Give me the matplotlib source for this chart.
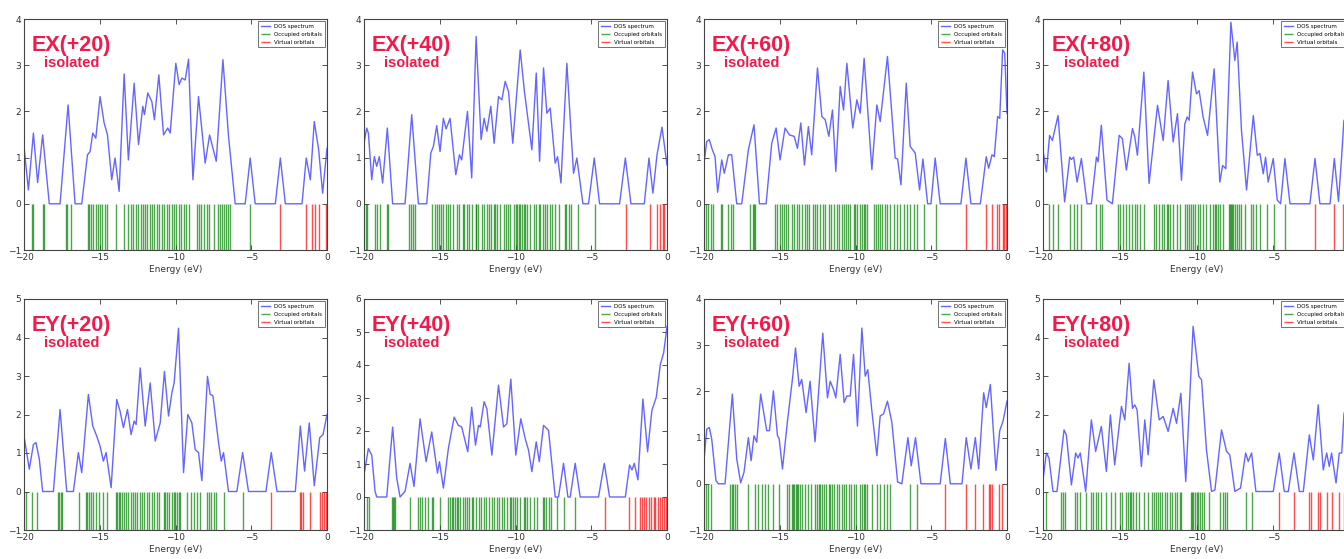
import matplotlib
matplotlib.use("Agg")
import matplotlib.pyplot as plt

plt.rcParams['font.family'] = ['DejaVu Sans']

titles = ['EX(+20)', 'EX(+40)', 'EX(+60)', 'EX(+80)',
          'EY(+20)', 'EY(+40)', 'EY(+60)', 'EY(+80)']
y_tops = [4, 4, 4, 4, 5, 6, 4, 5]
legend_labels = ['DOS spectrum', 'Occupied orbitals', 'Virtual orbitals']
x_ticks = [-20, -15, -10, -5, 0]

# ---------------- EX(+20)
ex20_e = [-20, -19.71, -19.38, -19.10, -18.77, -18.33, -17.62, -17.09, -16.63, -16.19, -15.81, -15.64, -15.46, -15.26,
          -14.98, -14.71, -14.49, -14.21, -13.99, -13.72, -13.39, -13.11, -12.73, -12.44, -12.16, -12.05, -11.83, -11.56,
          -11.39, -11.10, -10.79, -10.51, -10.35, -9.98, -9.76, -9.58, -9.36, -9.14, -8.85, -8.48, -8.04, -7.75, -7.31,
          -6.87, -6.50, -6.06, -5.40, -5.07, -4.74, -3.41, -3.08, -2.75, -1.65, -1.37, -1.10, -0.84, -0.55, -0.29, 0]
ex20_dos = [1.24, 0.30, 1.53, 0.46, 1.49, 0, 0, 2.14, 0, 0, 1.06, 1.13, 1.53, 1.42,
            2.32, 1.75, 1.49, 0.52, 0.99, 0.27, 2.81, 0.95, 2.61, 1.28, 2.11, 1.93, 2.40, 2.21,
            1.82, 2.79, 1.49, 1.64, 1.53, 3.04, 2.58, 2.72, 2.68, 3.13, 0.52, 2.32, 0.88, 1.49, 0.92,
            3.12, 1.46, 0, 0, 0.99, 0, 0, 0.99, 0, 0, 0.99, 0.52, 1.78, 1.17, 0.23, 1.2]
ex20_occ = [-19.49, -19.38, -18.77, -18.66, -17.25, -17.16, -16.92, -15.79, -15.68, -15.57, -15.42, -15.26, -15.13,
            -14.98, -14.85, -14.67, -14.52, -13.92, -13.37, -13.11, -12.95, -12.78, -12.64, -12.47, -12.27, -12.14,
            -12.01, -11.85, -11.70, -11.54, -11.39, -11.23, -11.08, -10.90, -10.77, -10.57, -10.40, -10.24, -10.13,
            -9.96, -9.80, -9.65, -9.47, -9.32, -9.14, -8.59, -8.48, -8.33, -8.15, -7.93, -7.78, -7.49, -7.22, -7.05,
            -6.94, -6.81, -6.67, -6.52, -6.39, -5.07]
ex20_virt = [-3.08, -1.37, -0.99, -0.81, -0.55, -0.04]

# ---------------- EX(+40)
ex40_e = [-20, -19.82, -19.71, -19.49, -19.32, -19.16, -18.99, -18.77, -18.46, -18.11, -17.29, -16.85, -16.41, -15.86,
          -15.59, -15.42, -15.20, -14.98, -14.76, -14.58, -14.32, -13.94, -13.70, -13.55, -13.17, -12.89, -12.60,
          -12.27, -12.07, -11.89, -11.63, -11.41, -11.12, -10.90, -10.68, -10.46, -10.18, -9.69, -9.41, -8.92, -8.63,
          -8.41, -8.15, -7.93, -7.71, -7.38, -7.22, -7.00, -6.61, -6.17, -5.95, -5.55, -5.18, -4.80, -4.45, -3.13,
          -2.75, -2.38, -1.50, -1.19, -0.93, -0.66, -0.33, 0]
ex40_dos = [1.31, 1.64, 1.53, 0.52, 1.02, 0.81, 1.02, 0.45, 1.64, 0, 0, 1.93, 0, 0,
            1.10, 1.24, 1.69, 1.13, 1.85, 1.62, 1.85, 0.63, 1.06, 0.95, 2.00, 0.56, 3.62,
            1.39, 1.85, 1.57, 2.11, 1.31, 2.32, 2.25, 2.65, 2.43, 1.31, 3.33, 2.43, 1.17, 2.83,
            0.92, 2.94, 1.96, 2.07, 0.88, 1.02, 0.45, 3.04, 0.66, 0.99, 0, 0, 0.99, 0, 0,
            0.99, 0, 0, 0.99, 0.23, 1.06, 1.66, 0.84]
ex40_occ = [-19.87, -19.78, -19.30, -19.12, -18.94, -18.50, -18.39, -17.00, -16.89, -16.74, -16.63, -15.53, -15.31,
            -15.20, -15.04, -14.91, -14.76, -14.58, -14.47, -14.32, -14.10, -13.88, -13.70, -13.48, -13.37, -13.22,
            -13.06, -12.89, -12.62, -12.58, -12.49, -12.22, -12.05, -11.89, -11.78, -11.63, -11.45, -11.34, -11.19,
            -11.01, -10.79, -10.64, -10.51, -10.35, -10.13, -9.96, -9.87, -9.78, -9.69, -9.58, -9.47, -9.36, -9.25,
            -9.03, -8.81, -8.66, -8.48, -8.37, -8.19, -8.04, -7.93, -7.75, -7.60, -7.38, -7.16, -6.72, -6.65, -6.50,
            -6.34, -5.90, -4.74]
ex40_virt = [-2.73, -1.15, -0.66, -0.48, -0.26, -0.18]

# ---------------- EX(+60)
ex60_e = [-20, -19.82, -19.65, -19.45, -19.27, -19.10, -18.83, -18.66, -18.39, -18.17, -17.84, -17.51, -17.07, -16.70,
          -16.34, -15.90, -15.53, -15.24, -14.98, -14.65, -14.36, -14.05, -13.83, -13.61, -13.37, -13.11, -12.89,
          -12.51, -12.22, -12.00, -11.76, -11.52, -11.30, -11.01, -10.79, -10.57, -10.18, -9.91, -9.69, -9.43, -8.92,
          -8.59, -8.37, -7.89, -7.38, -7.22, -7.00, -6.65, -6.39, -6.06, -5.77, -5.55, -5.24, -5.02, -4.74, -4.41,
          -3.04, -2.71, -2.38, -1.76, -1.37, -1.21, -0.99, -0.84, -0.62, -0.48, -0.29, -0.15, 0]
ex60_dos = [0.88, 1.35, 1.39, 1.17, 1.02, 0.25, 0.95, 0.66, 1.06, 1.06, 0, 0, 1.17, 1.71,
            0, 0, 1.31, 1.64, 0.95, 1.64, 1.49, 1.46, 1.20, 1.75, 0.84, 1.67, 1.06,
            2.94, 1.89, 1.82, 1.46, 2.03, 0.70, 2.54, 2.03, 3.04, 1.64, 2.25, 1.96, 3.15, 0.74,
            2.14, 1.78, 3.19, 0.99, 0.97, 0.41, 2.61, 1.24, 1.10, 0.30, 0.97, 0, 0, 0.99, 0,
            0, 0.99, 0, 0, 1.02, 0.77, 1.06, 1.02, 1.89, 1.85, 3.33, 3.26, 1.96]
ex60_occ = [-19.87, -19.71, -19.56, -19.38, -18.90, -18.79, -18.39, -18.24, -18.06, -16.96, -16.78, -16.70, -16.61,
            -15.31, -15.15, -14.98, -14.87, -14.71, -14.58, -14.43, -14.21, -14.05, -13.88, -13.70, -13.55, -13.33,
            -13.22, -13.04, -12.82, -12.67, -12.51, -12.33, -12.16, -12.00, -11.78, -11.61, -11.41, -11.23, -11.06,
            -10.90, -10.79, -10.64, -10.51, -10.35, -10.13, -10.02, -9.87, -9.69, -9.58, -9.47, -9.36, -9.21, -8.81,
            -8.63, -8.50, -8.37, -8.22, -8.04, -7.89, -7.71, -7.49, -7.27, -7.05, -6.78, -6.61, -6.39, -6.17, -5.95,
            -5.51, -4.67]
ex60_virt = [-2.69, -1.37, -0.99, -0.66, -0.53, -0.26, -0.18, -0.09]

# ---------------- EX(+80)
ex80_e = [-20, -19.78, -19.57, -19.39, -19.02, -18.59, -18.26, -18.15, -18.00, -17.78, -17.50, -17.13, -16.85, -16.52,
          -16.41, -16.20, -15.83, -15.48, -15.04, -14.83, -14.57, -14.17, -14.02, -13.85, -13.43, -13.09, -12.54,
          -12.17, -11.85, -11.52, -11.24, -10.98, -10.76, -10.61, -10.48, -10.26, -10.00, -9.83, -9.57, -9.28, -8.85,
          -8.48, -8.30, -8.09, -7.76, -7.50, -7.35, -7.07, -6.74, -6.30, -6.04, -5.87, -5.65, -5.50, -5.33, -5.00,
          -4.74, -4.52, -4.24, -3.91, -2.61, -2.28, -1.96, -1.30, -1.02, -0.75, -0.55, -0.40, 0]
ex80_dos = [1.16, 0.69, 1.48, 1.37, 1.91, 0.04, 1.01, 0.96, 1.01, 0.47, 0.98, 0, 0, 1.01,
            0.91, 1.70, 0.08, 0, 1.48, 1.41, 0.73, 1.63, 1.45, 1.05, 2.85, 0.44, 2.13,
            1.37, 2.67, 1.34, 1.95, 0.51, 1.73, 1.88, 1.81, 2.85, 2.38, 2.45, 1.88, 1.48, 2.92,
            0.47, 0.83, 0.76, 3.93, 3.10, 3.50, 1.59, 0.30, 1.91, 1.05, 1.09, 0.65, 1.01, 0.47, 0.98,
            0.08, 0, 0.98, 0, 0, 0.98, 0, 0, 0.98, 0.05, 1.0, 1.8, 2.0]
ex80_occ = [-19.61, -19.35, -19.02, -18.26, -18.00, -17.78, -17.50, -16.52, -16.30, -16.13, -15.11, -14.96, -14.78,
            -14.61, -14.39, -14.17, -14.02, -13.85, -13.70, -13.43, -12.78, -12.61, -12.43, -12.28, -12.11, -11.89,
            -11.85, -11.74, -11.52, -11.24, -11.09, -10.76, -10.65, -10.48, -10.33, -10.22, -10.07, -9.89, -9.78,
            -9.57, -9.35, -9.13, -8.91, -8.80, -8.70, -8.59, -8.48, -8.26, -7.87, -7.83, -7.76, -7.67, -7.61, -7.50,
            -7.39, -7.22, -7.07, -6.85, -6.48, -6.30, -6.13, -5.87, -5.43, -4.96, -4.24]
ex80_virt = [-2.28, -1.02, -0.45, -0.2]

# ---------------- EY(+20)
ey20_e = [-20, -19.65, -19.38, -19.21, -18.99, -18.77, -18.06, -17.62, -17.18, -16.74, -16.41, -16.19, -15.75, -15.46,
          -15.20, -14.98, -14.76, -14.58, -14.25, -13.88, -13.66, -13.44, -13.17, -12.93, -12.73, -12.60, -12.33,
          -12.00, -11.67, -11.34, -11.01, -10.73, -10.46, -10.24, -10.09, -9.80, -9.47, -9.19, -8.92, -8.70, -8.48,
          -8.26, -7.89, -7.71, -7.53, -7.16, -6.98, -6.83, -6.50, -5.95, -5.57, -5.18, -4.03, -3.68, -3.30, -2.09,
          -1.76, -1.48, -1.17, -0.84, -0.48, -0.26, 0]
ey20_dos = [1.44, 0.58, 1.22, 1.27, 0.84, 0, 0, 2.13, 0, 0, 1.01, 0.49, 2.52, 1.70,
            1.44, 1.18, 0.79, 1.01, 0.10, 2.39, 2.09, 1.66, 2.13, 1.48, 1.83, 1.74, 3.21,
            1.70, 2.82, 1.31, 1.78, 3.12, 1.96, 2.56, 2.82, 4.24, 0.49, 2.00, 1.78, 1.09, 1.01,
            0.28, 2.99, 2.52, 2.49, 1.27, 0.79, 1.01, 0, 0, 1.01, 0, 0, 1.01, 0, 0,
            1.70, 0.53, 1.78, 0.15, 1.40, 1.48, 2.00]
ey20_occ = [-19.87, -19.49, -19.16, -17.73, -17.67, -17.56, -17.49, -16.37, -15.90, -15.81, -15.68, -15.57, -15.42,
            -15.24, -15.02, -14.80, -14.54, -13.92, -13.83, -13.74, -13.66, -13.55, -13.39, -13.26, -13.11, -12.95,
            -12.82, -12.67, -12.51, -12.33, -12.22, -12.07, -11.89, -11.72, -11.56, -11.41, -11.23, -11.06, -10.75,
            -10.68, -10.57, -10.40, -10.24, -10.13, -10.02, -9.91, -9.80, -9.69, -9.21, -8.99, -8.81, -8.59, -8.37,
            -7.93, -7.82, -7.67, -7.49, -7.31, -6.83, -5.55]
ey20_virt = [-3.68, -1.81, -1.70, -1.59, -1.15, -0.48, -0.33, -0.18, -0.04]

# ---------------- EY(+40)
ey40_e = [-20, -19.71, -19.49, -19.27, -19.16, -18.50, -18.11, -17.84, -17.62, -17.29, -16.96, -16.70, -16.30, -15.90,
          -15.53, -15.15, -15.02, -14.76, -14.43, -14.05, -13.77, -13.55, -13.15, -12.89, -12.64, -12.44, -12.33,
          -12.07, -11.89, -11.56, -11.12, -10.79, -10.57, -10.31, -9.98, -9.65, -9.36, -9.14, -8.92, -8.63, -8.43,
          -8.15, -7.82, -7.38, -7.16, -6.83, -6.54, -6.39, -6.06, -5.73, -4.52, -4.14, -3.79, -2.75, -2.47, -2.31,
          -2.16, -1.92, -1.59, -1.28, -1.00, -0.71, -0.44, -0.22, 0]
ey40_dos = [0.67, 1.47, 1.27, 0.17, 0, 0, 2.12, 0.57, 0, 0.17, 1.02, 0.32, 2.37, 1.07,
            1.97, 0.72, 1.07, 0.27, 1.47, 2.42, 2.17, 2.12, 1.37, 2.72, 1.57, 2.17, 2.12,
            2.89, 2.67, 1.27, 3.39, 2.12, 2.22, 3.57, 1.27, 2.37, 1.77, 1.42, 0.77, 1.67, 1.07,
            2.17, 2.02, 0, 0, 1.02, 0, 0, 1.02, 0, 0, 1.02, 0, 0, 0.97, 0.82,
            1.02, 0.52, 2.97, 1.37, 2.62, 3.02, 4.02, 4.37, 5.17]
ey40_occ = [-19.82, -19.65, -18.17, -18.11, -18.02, -17.95, -16.96, -16.41, -16.30, -16.19, -15.97, -15.75, -15.53,
            -15.46, -14.98, -14.43, -14.32, -14.21, -14.10, -13.99, -13.88, -13.77, -13.66, -13.48, -13.33, -13.17,
            -13.04, -12.86, -12.78, -12.60, -12.44, -12.29, -12.11, -11.94, -11.78, -11.56, -11.41, -11.23, -11.06,
            -10.90, -10.75, -10.57, -10.35, -10.31, -10.18, -10.02, -9.87, -9.69, -9.47, -9.36, -9.21, -9.03, -8.81,
            -8.59, -8.19, -8.11, -7.97, -7.82, -7.64, -7.27, -6.83, -6.06]
ey40_virt = [-4.12, -2.53, -2.09, -1.76, -1.65, -1.50, -1.37, -1.21, -1.06, -0.88, -0.77, -0.62, -0.48, -0.33,
             -0.18, -0.04]

# ---------------- EY(+60)
ey60_e = [-20, -19.82, -19.65, -19.49, -19.21, -19.05, -18.61, -18.13, -17.84, -17.58, -17.36, -17.07, -16.89, -16.70,
          -16.52, -16.26, -15.86, -15.68, -15.42, -15.15, -15.04, -14.82, -14.49, -14.14, -13.96, -13.72, -13.55,
          -13.26, -13.00, -12.67, -12.16, -11.85, -11.67, -11.45, -11.30, -11.01, -10.75, -10.57, -10.35, -10.13,
          -9.87, -9.58, -9.36, -9.19, -8.92, -8.59, -8.37, -8.15, -7.89, -7.60, -7.22, -6.94, -6.54, -6.32, -6.04,
          -5.68, -4.41, -4.07, -3.74, -2.97, -2.69, -2.38, -2.09, -1.87, -1.54, -1.37, -1.10, -0.73, -0.48, -0.26, 0]
ey60_dos = [0.50, 1.18, 1.22, 0.97, 0.07, 0, 0, 1.94, 0.54, 0.02, 0.25, 1.00, 0.50, 1.04,
            0.90, 1.94, 1.15, 1.15, 2.01, 1.04, 0.98, 0.32, 1.36, 2.33, 2.94, 2.11, 2.26,
            1.54, 2.22, 0.91, 3.26, 1.86, 2.22, 2.04, 1.86, 2.80, 1.76, 1.90, 1.90, 2.80,
            1.25, 3.37, 2.33, 2.47, 1.58, 0.61, 1.47, 1.51, 1.79, 1.33, 0.04, 0, 1.00, 0.39, 1.00,
            0, 0, 0.98, 0, 0, 1.00, 0.32, 1.00, 0.32, 1.97, 1.65, 2.15, 0.29, 1.15, 1.36, 1.79]
ey60_occ = [-19.87, -19.71, -19.56, -18.28, -18.17, -18.06, -17.95, -17.84, -17.07, -16.63, -16.41, -16.19, -15.97,
            -15.75, -15.42, -15.02, -14.54, -14.36, -14.21, -14.10, -14.03, -13.96, -13.88, -13.77, -13.66, -13.55,
            -13.33, -13.11, -12.93, -12.67, -12.56, -12.44, -12.33, -12.22, -12.11, -11.96, -11.78, -11.67, -11.56,
            -11.41, -11.23, -11.06, -10.90, -10.79, -10.62, -10.46, -10.31, -10.13, -9.96, -9.69, -9.58, -9.47,
            -9.36, -9.21, -8.92, -8.59, -8.37, -8.15, -7.93, -7.71, -6.43, -5.95]
ey60_virt = [-4.07, -2.69, -2.09, -1.59, -1.21, -1.10, -0.99, -0.55, -0.33]

# ---------------- EY(+80)
ey80_e = [-20, -19.78, -19.61, -19.35, -19.09, -18.63, -18.48, -18.15, -17.87, -17.72, -17.57, -17.22, -16.85, -16.57,
          -16.20, -15.87, -15.61, -15.33, -14.89, -14.67, -14.39, -14.17, -14.02, -13.87, -13.59, -13.37, -13.15,
          -12.78, -12.43, -12.17, -11.85, -11.52, -11.30, -11.02, -10.70, -10.22, -9.85, -9.67, -9.35, -9.02, -8.80,
          -8.37, -8.04, -7.83, -7.50, -7.13, -6.80, -6.63, -6.41, -6.13, -5.00, -4.61, -4.28, -4.02, -3.65, -3.30,
          -3.04, -2.65, -2.39, -2.07, -1.74, -1.52, -1.35, -1.20, -0.91, -0.70, -0.54, -0.39, -0.2, 0]
ey80_dos = [0.30, 1.00, 0.87, 0, 0, 1.60, 1.47, 0.17, 1.00, 0.87, 1.00, 0, 1.86, 1.04,
            1.69, 0.52, 1.99, 0.69, 2.21, 1.86, 3.33, 2.16, 2.25, 2.12, 0.65, 1.86, 0.95,
            2.90, 1.86, 1.95, 1.56, 2.16, 1.77, 2.55, 0.26, 4.29, 2.99, 2.90, 1.08, 0, 0.04,
            1.60, 1.04, 0.95, 0, 0.09, 1.00, 0.78, 1.00, 0, 0, 1.00, 0, 0, 1.00, 0,
            0, 1.47, 0.82, 2.25, 0.56, 1.00, 0.65, 1.00, 0.22, 1.00, 1.00, 2.03, 2.2, 2.5]
ey80_occ = [-19.78, -18.80, -18.70, -18.59, -17.93, -17.78, -17.57, -17.22, -16.85, -16.74, -16.57, -16.41, -16.20,
            -15.91, -15.59, -15.33, -15.00, -14.83, -14.57, -14.46, -14.35, -14.24, -14.13, -13.96, -13.74, -13.43,
            -13.15, -12.87, -12.78, -12.65, -12.50, -12.39, -12.22, -12.07, -11.91, -11.74, -11.57, -11.41, -11.26,
            -11.09, -10.98, -10.39, -10.30, -10.22, -10.11, -10.00, -9.89, -9.78, -9.67, -9.52, -9.17, -8.48, -8.30,
            -8.15, -8.04, -6.78, -6.41]
ey80_virt = [-4.61, -3.65, -2.65, -2.57, -2.07, -1.96, -1.52, -1.20, -0.70, -0.40, -0.10]

energies = [ex20_e, ex40_e, ex60_e, ex80_e, ey20_e, ey40_e, ey60_e, ey80_e]
dos = [ex20_dos, ex40_dos, ex60_dos, ex80_dos, ey20_dos, ey40_dos, ey60_dos, ey80_dos]
occ = [ex20_occ, ex40_occ, ex60_occ, ex80_occ, ey20_occ, ey40_occ, ey60_occ, ey80_occ]
virt = [ex20_virt, ex40_virt, ex60_virt, ex80_virt, ey20_virt, ey40_virt, ey60_virt, ey80_virt]

W, H = 1344, 559
fig = plt.figure(figsize=(W / 100, H / 100), dpi=100)
fig.patch.set_facecolor('white')

col_px = [(24, 327), (364, 667), (704, 1007), (1043, 1350)]
row_px = [(19, 250), (299, 530)]
title_color = '#f2194b'

for i in range(8):
    r, c = divmod(i, 4)
    l, rr = col_px[c]
    t, b = row_px[r]
    ax = fig.add_axes([l / W, 1 - b / H, (rr - l) / W, (b - t) / H])
    ax.plot(energies[i], dos[i], color='#4a4aff', lw=1.0, alpha=0.85, label=legend_labels[0])
    ax.vlines(occ[i], -1, 0, colors='green', lw=1.0, alpha=0.7, label=legend_labels[1])
    ax.vlines(virt[i], -1, 0, colors='red', lw=1.0, alpha=0.7, label=legend_labels[2])
    ax.set_xlim(-20, 0)
    ax.set_ylim(-1, y_tops[i])
    ax.set_xticks(x_ticks)
    ax.set_yticks(range(-1, y_tops[i] + 1))
    ax.tick_params(direction='in', top=True, right=True, length=3.5, width=0.6,
                   labelsize=6.5, labelcolor='#333333', pad=2, color='#333333')
    for s in ax.spines.values():
        s.set_linewidth(0.8)
        s.set_color('#444444')
    ax.set_xlabel('Energy (eV)', fontsize=6.5, color='#333333', labelpad=2)
    ax.text(0.157, 0.887, titles[i], transform=ax.transAxes, ha='center', va='center',
            fontsize=15.5, fontweight='bold', color=title_color, family=['Liberation Sans', 'DejaVu Sans'])
    ax.text(0.157, 0.81, 'isolated', transform=ax.transAxes, ha='center', va='center',
            fontsize=10.5, fontweight='bold', color=title_color, family=['Liberation Sans', 'DejaVu Sans'])
    leg = ax.legend(loc='upper right', fontsize=4, frameon=True, fancybox=False,
                    borderaxespad=0.4, handlelength=1.6, borderpad=0.5, labelspacing=0.5)
    leg.get_frame().set_edgecolor('#333333')
    leg.get_frame().set_linewidth(0.6)

fig.savefig('out.png', dpi=100)
